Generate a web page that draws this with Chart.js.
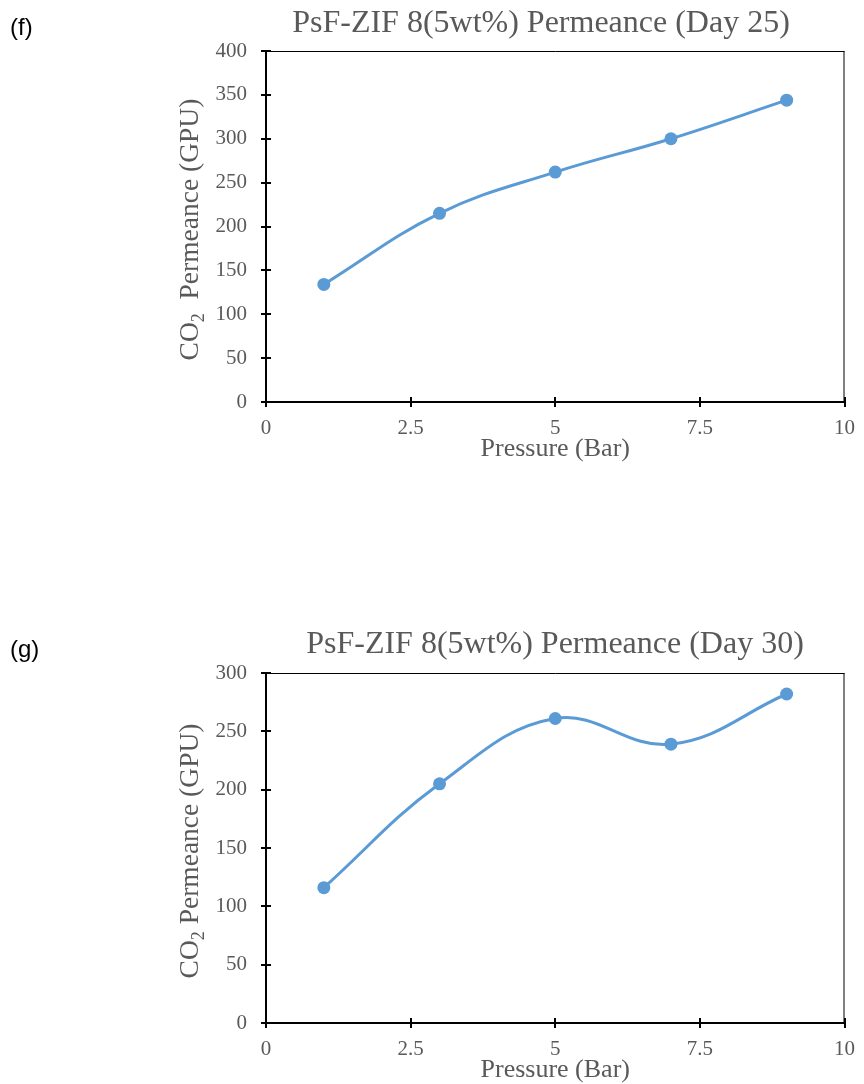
<!DOCTYPE html>
<html>
<head>
<meta charset="utf-8">
<script src="https://cdn.jsdelivr.net/npm/chart.js@4.4.1/dist/chart.umd.min.js"></script>
<style>
  body { margin: 0; background: #fff; width: 864px; height: 1084px; position: relative; overflow: hidden; }
  canvas { position: absolute; left: 0; }
</style>
</head>
<body>
<canvas id="chartF" width="864" height="480" style="top:0px"></canvas>
<canvas id="chartG" width="864" height="524" style="top:560px"></canvas>
<script>
// data
const pressure = [1, 3, 5, 7, 9];
const permeanceDay25 = [134, 215, 262, 300, 344];
const permeanceDay30 = [116, 205, 261, 239, 282];
const xTicks = [0, 2.5, 5, 7.5, 10];
const yTicksDay25 = [0, 50, 100, 150, 200, 250, 300, 350, 400];
const yTicksDay30 = [0, 50, 100, 150, 200, 250, 300];

const grey = '#595959';
const blue = '#5B9BD5';

// frame, crossing ticks, titles and panel letter
const decor = {
  id: 'decor',
  afterDraw(chart, args, o) {
    const { ctx, chartArea: a, scales: { x, y } } = chart;
    ctx.save();
    ctx.strokeStyle = '#000';
    ctx.lineWidth = 1;
    ctx.beginPath();
    ctx.moveTo(a.left, a.top + 0.5); ctx.lineTo(a.right, a.top + 0.5);
    ctx.moveTo(a.right - 0.5, a.top); ctx.lineTo(a.right - 0.5, a.bottom);
    ctx.stroke();

    ctx.lineWidth = 2;
    ctx.beginPath();
    y.ticks.forEach(t => {
      const py = Math.round(y.getPixelForValue(t.value));
      ctx.moveTo(a.left - 5, py); ctx.lineTo(a.left + 5, py);
    });
    x.ticks.forEach(t => {
      const px = Math.round(x.getPixelForValue(t.value));
      ctx.moveTo(px, a.bottom - 5); ctx.lineTo(px, a.bottom + 5);
    });
    ctx.stroke();

    ctx.fillStyle = grey;
    ctx.textAlign = 'center';
    ctx.textBaseline = 'middle';
    ctx.font = '32px "Liberation Serif"';
    ctx.fillText(o.title, o.titleX, o.titleY);

    ctx.font = '26px "Liberation Serif"';
    ctx.fillText('Pressure (Bar)', (a.left + a.right) / 2, a.bottom + 47);

    // y title with subscript
    ctx.save();
    ctx.translate(189, (a.top + a.bottom) / 2 + 3);
    ctx.rotate(-Math.PI / 2);
    ctx.textAlign = 'left';
    ctx.textBaseline = 'alphabetic';
    const big = '27.5px "Liberation Serif"', small = '18px "Liberation Serif"';
    const rest = o.gap + 'Permeance (GPU)';
    ctx.font = big; const wCO = ctx.measureText('CO').width; const wRest = ctx.measureText(rest).width;
    ctx.font = small; const w2 = ctx.measureText('2').width;
    let sx = -(wCO + w2 + wRest) / 2;
    ctx.font = big; ctx.fillText('CO', sx, 9); sx += wCO;
    ctx.font = small; ctx.fillText('2', sx, 15); sx += w2;
    ctx.font = big; ctx.fillText(rest, sx, 9);
    ctx.restore();

    ctx.fillStyle = '#000';
    ctx.textAlign = 'left';
    ctx.font = '24px "Liberation Sans"';
    ctx.fillText(o.letter, 10, o.letterY);
    ctx.restore();
  }
};

function makeChart(id, values, yMax, yTicks, opts) {
  return new Chart(document.getElementById(id), {
    type: 'line',
    data: {
      datasets: [{
        data: pressure.map((p, i) => ({ x: p, y: values[i] })),
        borderColor: blue,
        backgroundColor: blue,
        borderWidth: 3,
        pointRadius: 6.5,
        pointBackgroundColor: blue,
        pointBorderWidth: 0,
        tension: 0.4,
        fill: false
      }]
    },
    options: {
      responsive: false,
      animation: false,
      devicePixelRatio: 1,
      layout: { padding: { top: opts.top, right: 18, left: 0, bottom: 0 } },
      plugins: {
        legend: { display: false },
        tooltip: { enabled: false },
        decor: opts
      },
      scales: {
        x: {
          type: 'linear', min: 0, max: 10,
          afterBuildTicks: s => { s.ticks = xTicks.map(v => ({ value: v })); },
          afterFit: s => { s.height = opts.xHeight; },
          grid: { drawOnChartArea: false, color: 'rgba(0,0,0,0)', tickLength: 5 },
          border: { color: '#000', width: 2 },
          ticks: { color: grey, font: { family: 'Liberation Serif', size: 21 }, padding: 9, maxRotation: 0 }
        },
        y: {
          type: 'linear', min: 0, max: yMax,
          afterBuildTicks: s => { s.ticks = yTicks.map(v => ({ value: v })); },
          afterFit: s => { s.width = 266; },
          grid: { drawOnChartArea: false, color: 'rgba(0,0,0,0)', tickLength: 5 },
          border: { color: '#000', width: 2 },
          ticks: { color: grey, font: { family: 'Liberation Serif', size: 21 }, padding: 14 }
        }
      }
    },
    plugins: [decor]
  });
}

makeChart('chartF', permeanceDay25, 400, yTicksDay25, {
  top: 51, xHeight: 78,
  title: 'PsF-ZIF 8(5wt%) Permeance (Day 25)', titleX: 541, titleY: 24,
  letter: '(f)', letterY: 28, gap: '  '
});
makeChart('chartG', permeanceDay30, 300, yTicksDay30, {
  top: 113, xHeight: 61,
  title: 'PsF-ZIF 8(5wt%) Permeance (Day 30)', titleX: 555, titleY: 85,
  letter: '(g)', letterY: 90, gap: ' '
});
</script>
</body>
</html>
